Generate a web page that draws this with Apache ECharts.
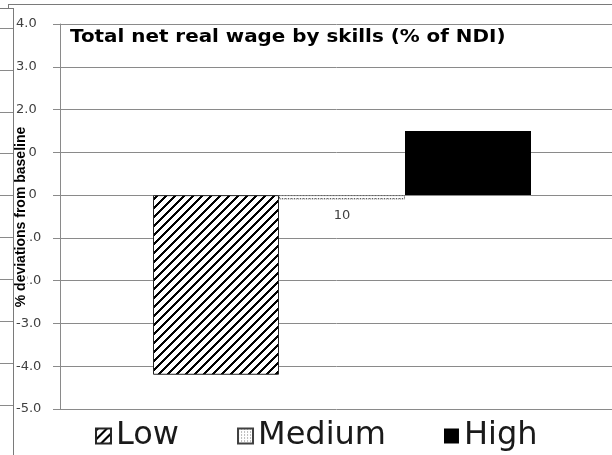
<!DOCTYPE html>
<html lang="en">
<head>
    <meta charset="UTF-8">
    <title>Total net real wage by skills</title>
    <script src="https://cdn.jsdelivr.net/npm/echarts@6/dist/echarts.min.js"></script>
    <style>
        html, body { margin: 0; padding: 0; background: #fff; }
    </style>
</head>
<body>
<div id="main" style="width: 612px;height: 455px;"></div>
<script type="text/javascript">
// data
var categories = [''];
var seriesNames = ['Low', 'Medium', 'High'];
var lowValues = [-4.2];
var mediumValues = [-0.1];
var highValues = [1.5];
var yMin = -5, yMax = 4, yStep = 1;
var mediumLabel = '10';

// fill patterns, drawn on small canvases
function hatch() {
    var c = document.createElement('canvas');
    c.width = 9; c.height = 9;
    var ctx = c.getContext('2d');
    ctx.fillStyle = '#fff';
    ctx.fillRect(0, 0, 9, 9);
    ctx.fillStyle = '#000';
    for (var x = 0; x < 9; x++) {
        for (var y = 0; y < 9; y++) {
            if ((x + y) % 9 < 3) ctx.fillRect(x, y, 1, 1);
        }
    }
    return c;
}
function dots() {
    var c = document.createElement('canvas');
    c.width = 3; c.height = 3;
    var ctx = c.getContext('2d');
    ctx.fillStyle = '#fff';
    ctx.fillRect(0, 0, 3, 3);
    ctx.fillStyle = '#7a7a7a';
    ctx.fillRect(0, 0, 1, 1);
    return c;
}

var grey = '#8a8a8a';
var myChart = echarts.init(document.getElementById('main'));

myChart.setOption({
    animation: false,
    backgroundColor: '#fff',
    grid: [
        {left: 60, width: 564, top: 24, bottom: 46, outerBoundsMode: 'none'},
        //outer axis, only the ticks are seen
        {left: 13, width: 1, top: 28, bottom: 50, outerBoundsMode: 'none'}
    ],
    legend: {
        left: 95,
        top: 420,
        padding: 0,
        icon: 'rect',
        itemWidth: 15,
        itemHeight: 15,
        itemGap: 58,
        textStyle: {fontFamily: 'DejaVu Sans', fontSize: 32, lineHeight: 32, color: '#1a1a1a'},
        data: seriesNames
    },
    xAxis: [
        {type: 'category', data: categories, gridIndex: 0,
            axisLine: {show: false}, axisTick: {show: false}, axisLabel: {show: false}},
        {type: 'value', gridIndex: 1, show: false}
    ],
    yAxis: [
        {
            type: 'value', gridIndex: 0, min: yMin, max: yMax, interval: yStep,
            axisLine: {show: true, lineStyle: {color: grey}},
            axisTick: {show: true, length: 7, lineStyle: {color: grey}},
            axisLabel: {
                align: 'left', margin: 44, color: '#404040',
                fontFamily: 'DejaVu Sans', fontSize: 13,
                formatter: function (v) { return v.toFixed(1); }
            },
            splitLine: {lineStyle: {color: grey}}
        },
        {
            type: 'value', gridIndex: 1, min: yMin, max: yMax, interval: yStep,
            axisLine: {show: false},
            axisTick: {show: true, length: 13, lineStyle: {color: grey}},
            axisLabel: {show: false},
            splitLine: {show: false}
        }
    ],
    series: [
        {
            name: seriesNames[0], type: 'bar', data: lowValues,
            barWidth: 126, barGap: '0%',
            itemStyle: {color: {image: hatch(), repeat: 'repeat'}, borderColor: '#262626', borderWidth: 1}
        },
        {
            name: seriesNames[1], type: 'bar', data: mediumValues,
            barWidth: 126, barGap: '0%',
            itemStyle: {color: {image: dots(), repeat: 'repeat'}, borderColor: '#404040', borderWidth: 1, borderType: 'dotted'},
            label: {
                show: true, position: 'bottom', distance: 10,
                color: '#404040', fontFamily: 'DejaVu Sans', fontSize: 13,
                formatter: function () { return mediumLabel; }
            }
        },
        {
            name: seriesNames[2], type: 'bar', data: highValues,
            barWidth: 126, barGap: '0%',
            itemStyle: {color: '#000'}
        }
    ],
    graphic: [
        {type: 'line', shape: {x1: 8, y1: 4.5, x2: 612, y2: 4.5}, style: {stroke: '#7a7a7a', lineWidth: 1}},
        {type: 'line', shape: {x1: 8.5, y1: 4, x2: 8.5, y2: 8}, style: {stroke: '#7a7a7a', lineWidth: 1}},
        {type: 'line', shape: {x1: 0, y1: 8.5, x2: 13, y2: 8.5}, style: {stroke: '#7a7a7a', lineWidth: 1}},
        {type: 'line', shape: {x1: 13.5, y1: 8, x2: 13.5, y2: 455}, style: {stroke: '#7a7a7a', lineWidth: 1}},
        {
            type: 'text', x: 70, y: 38, scaleX: 1.17, z: 10,
            style: {
                text: 'Total net real wage by skills (% of NDI)',
                font: 'bold 17px "DejaVu Sans"', fill: '#000', verticalAlign: 'middle'
            }
        },
        {
            type: 'text', x: 21, y: 217, rotation: Math.PI / 2, z: 10,
            style: {
                text: '% deviations from baseline',
                font: 'bold 14px "Liberation Sans"', fill: '#000',
                align: 'center', verticalAlign: 'middle',
                backgroundColor: '#fff', lineHeight: 13
            }
        }
    ]
});
</script>

</body>
</html>
